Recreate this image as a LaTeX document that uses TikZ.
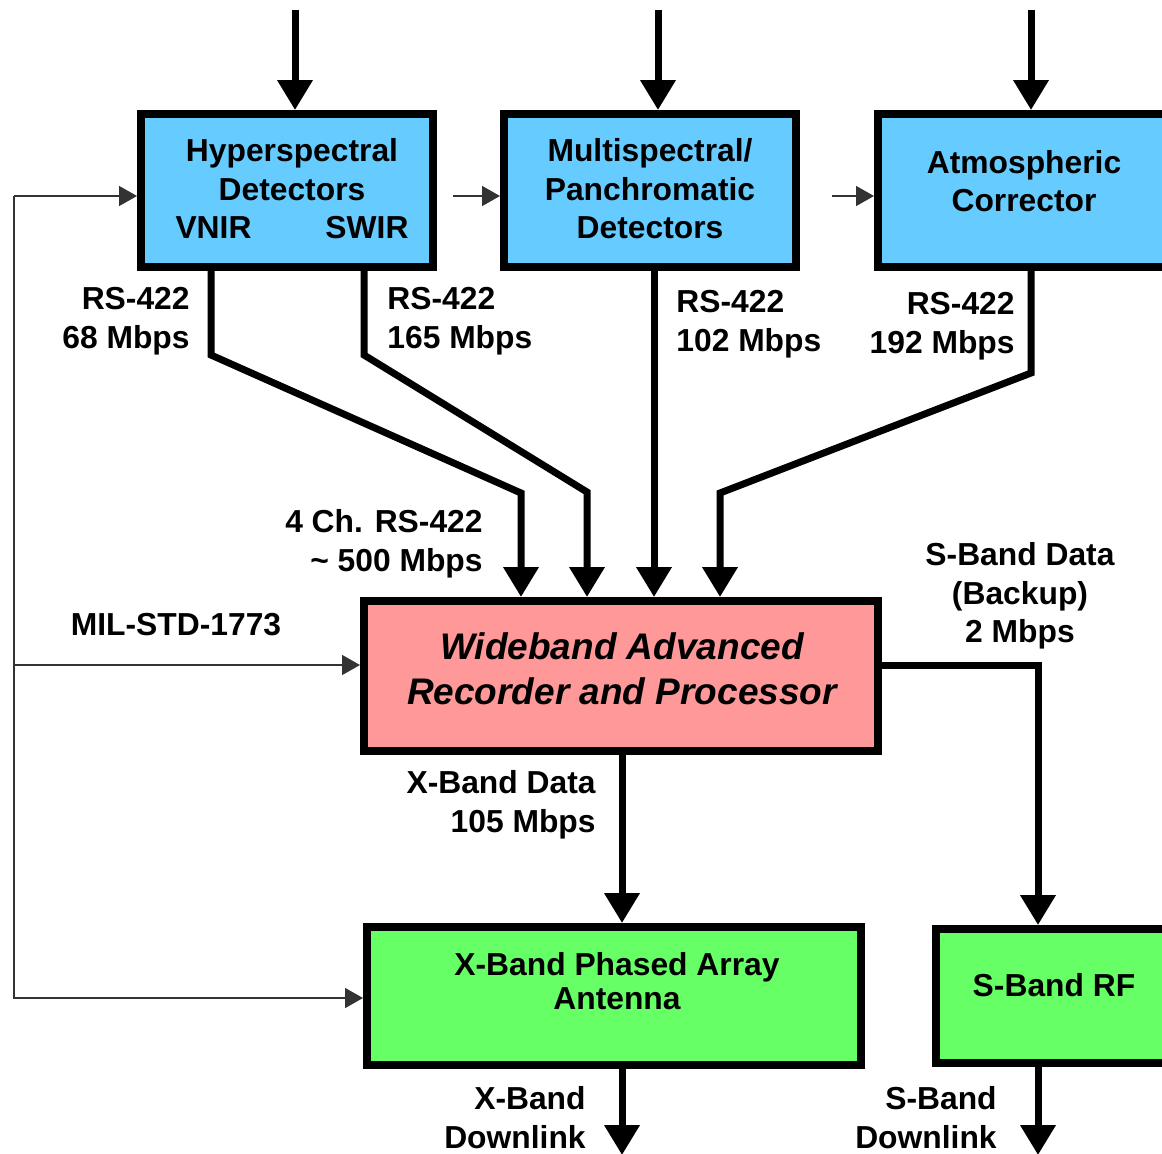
\documentclass[tikz,border=0pt]{standalone}
\usepackage{fontspec}
\setmainfont{Liberation Sans}
\usepackage{tikz}
\usetikzlibrary{arrows.meta,calc,positioning}
\definecolor{detblue}{HTML}{66CCFF}
\definecolor{recred}{HTML}{FF9999}
\definecolor{antgreen}{HTML}{66FF66}
\tikzset{
  blk/.style={draw,line width=4pt,inner sep=0pt,outer sep=2pt},
  flow/.style={line width=3.5pt,-{Triangle[width=17pt,length=15pt]}},
  ctrl/.style={line width=0.75pt,draw=black!80,-{Triangle[width=10pt,length=9pt]}},
  lbl/.style={inner sep=0pt,font=\fontsize{15.9}{19.3}\selectfont\bfseries},
}
\begin{document}
\begin{tikzpicture}[x=0.5pt,y=-0.5pt]
\useasboundingbox (0,0) rectangle (1162,1153);
\clip (0,0) rectangle (1162,1153);
\pgfmathsetmacro{\detw}{146}
\pgfmathsetmacro{\deth}{76.5}
\node[blk,fill=detblue,minimum width=\detw pt,minimum height=\deth pt] (hyp) at (287,190.5) {};
\node[blk,fill=detblue,minimum width=\detw pt,minimum height=\deth pt] (mult) at (650,190.5) {};
\node[blk,fill=detblue,minimum width=\detw pt,minimum height=\deth pt] (atm) at (1024,190.5) {};
\node[blk,fill=recred,minimum width=257pt,minimum height=75pt] (wide) at (621,676) {};
\node[blk,fill=antgreen,minimum width=247pt,minimum height=69pt] (xband) at (614,996) {};
\node[blk,fill=antgreen,minimum width=118pt,minimum height=67pt] (sbrf) at (1054,996) {};
\node[lbl,align=center] (hyptxt) at (292,189) {Hyperspectral\\Detectors\\VNIR\hspace{37pt}SWIR};
\node[lbl,align=center] (multtxt) at (650,189) {Multispectral/\\Panchromatic\\Detectors};
\node[lbl,align=center] (atmtxt) at (1024,181) {Atmospheric\\Corrector};
\node[inner sep=0pt,align=center,font=\fontsize{18.5}{22.5}\selectfont\bfseries\itshape] (widetxt) at (622,668.5) {Wideband Advanced\\Recorder and Processor};
\node[lbl,align=center,font=\fontsize{15.9}{17}\selectfont\bfseries] (xbandtxt) at (617,981) {X-Band Phased Array\\Antenna};
\node[lbl] (sbrftxt) at (1054,985) {S-Band RF};
\node[lbl,align=right,anchor=north east] (l68) at (190,287) {RS-422\\68 Mbps};
\node[lbl,align=left,anchor=north west] (l165) at (387,287) {RS-422\\165 Mbps};
\node[lbl,align=left,anchor=north west] (l102) at (676,290) {RS-422\\102 Mbps};
\node[lbl,align=right,anchor=north east] (l192) at (1015,292) {RS-422\\192 Mbps};
\node[lbl,align=right,anchor=north east] (l500) at (483,509) {4 Ch. RS-422\\\textasciitilde{} 500 Mbps};
\node[lbl] (lmil) at (176,625) {MIL-STD-1773};
\node[lbl,align=center,anchor=north] (lsdata) at (1020,542) {S-Band Data\\(Backup)\\2 Mbps};
\node[lbl,align=right,anchor=north east] (lxdata) at (596,770) {X-Band Data\\105 Mbps};
\node[lbl,align=right,anchor=north east] (lxdown) at (586,1086) {X-Band\\Downlink};
\node[lbl,align=right,anchor=north east] (lsdown) at (997,1086) {S-Band\\Downlink};
\coordinate (inhyp) at (295,10);
\coordinate (inmult) at (658,10);
\coordinate (inatm) at (1031,10);
\draw[flow] (inhyp) -- (inhyp |- hyp.north);
\draw[flow] (inmult) -- (inmult |- mult.north);
\draw[flow] (inatm) -- (inatm |- atm.north);
\coordinate (vnir1) at (211,355);
\coordinate (vnir2) at (521,493);
\coordinate (swir1) at (364,355);
\coordinate (swir2) at (587,492);
\coordinate (mout) at (654,400);
\coordinate (atm1) at (1031,373);
\coordinate (atm2) at (720,493);
\draw[flow] (vnir1 |- hyp.south) -- (vnir1) -- (vnir2) -- (vnir2 |- wide.north);
\draw[flow] (swir1 |- hyp.south) -- (swir1) -- (swir2) -- (swir2 |- wide.north);
\draw[flow] (mout |- mult.south) -- (mout |- wide.north);
\draw[flow] (atm1 |- atm.south) -- (atm1) -- (atm2) -- (atm2 |- wide.north);
\coordinate (sb1) at (1038,665);
\coordinate (xb1) at (622,840);
\draw[flow] (wide.east |- sb1) -- (sb1) -- (sb1 |- sbrf.north);
\draw[flow] (xb1 |- wide.south) -- (xb1 |- xband.north);
\coordinate (xdl) at (622,1155);
\coordinate (sdl) at (1038,1155);
\draw[flow] (xdl |- xband.south) -- (xdl);
\draw[flow] (sdl |- sbrf.south) -- (sdl);
\coordinate (bus1) at (14,196);
\coordinate (bus2) at (14,998);
\coordinate (bus3) at (14,665);
\coordinate (hm) at (453,196);
\coordinate (ma) at (832,196);
\draw[ctrl] (bus1) -- (bus1 -| hyp.west);
\draw[ctrl] (bus1) -- (bus2) -- (bus2 -| xband.west);
\draw[ctrl] (bus3) -- (bus3 -| wide.west);
\draw[ctrl] (hm) -- (hm -| mult.west);
\draw[ctrl] (ma) -- (ma -| atm.west);
\end{tikzpicture}
\end{document}
